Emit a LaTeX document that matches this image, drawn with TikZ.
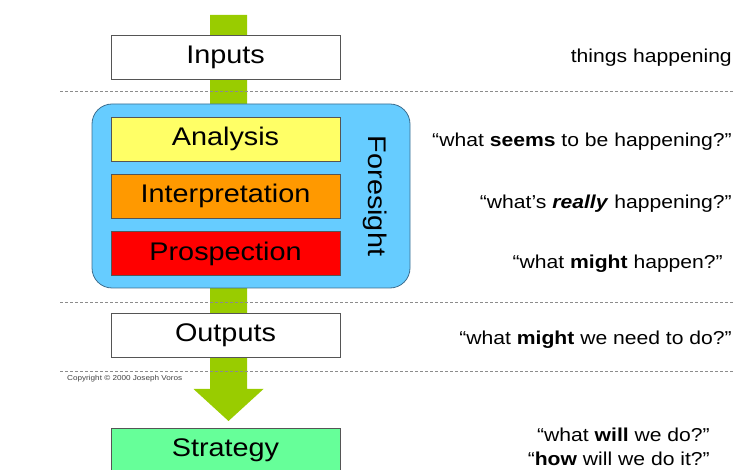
\documentclass[tikz,border=0pt]{standalone}
\usepackage{fontspec}
\setmainfont[FakeStretch=1.13]{Liberation Sans}
\usetikzlibrary{calc}
\definecolor{stemgreen}{HTML}{99CC00}
\definecolor{foreblue}{HTML}{66CCFF}
\definecolor{foreedge}{HTML}{3D6E8F}
\definecolor{anayellow}{HTML}{FFFF66}
\definecolor{intorange}{HTML}{FF9900}
\definecolor{prored}{HTML}{FF0000}
\definecolor{stratgreen}{HTML}{66FF99}
\definecolor{boxedge}{HTML}{555555}
\definecolor{rulegrey}{HTML}{8C8C8C}
\begin{document}
\begin{tikzpicture}[x=1pt, y=-1pt,
   stage/.style={draw=boxedge, line width=0.8pt, minimum width=229pt, minimum height=44pt,
     inner sep=0pt, font=\fontsize{25.5}{28}\selectfont},
   question/.style={anchor=base east, inner sep=0pt, font=\fontsize{18.7}{22}\selectfont},
   divider/.style={rulegrey, line width=0.8pt, dash pattern=on 3pt off 2pt}]
   \useasboundingbox (0,0) rectangle (734,470);
   % flow arrow behind everything
   \coordinate (src) at (228.5,15);
   \coordinate (tip) at (228.5,421);
   \fill[stemgreen] ($(src)+(-18.5,0)$) -- ($(src)+(18.5,0)$) -- ($(tip)+(18.5,-32)$)
     -- ($(tip)+(35,-32)$) -- (tip) -- ($(tip)+(-35,-32)$) -- ($(tip)+(-18.5,-32)$) -- cycle;
   % foresight panel
   \node[draw=foreedge, fill=foreblue, line width=0.8pt, rounded corners=20pt,
     minimum width=318pt, minimum height=184pt] (fore) at (251,196) {};
   \node[rotate=-90, font=\fontsize{25.5}{28}\selectfont] (foretext) at (375,196) {Foresight};
   % stages
   \node[stage, fill=white] (inputs) at (225.5,57) {Inputs};
   \node[stage, fill=anayellow] (ana) at (225.5,139) {Analysis};
   \node[stage, fill=intorange] (inter) at (225.5,196) {Interpretation};
   \node[stage, fill=prored] (pros) at (225.5,253.5) {Prospection};
   \node[stage, fill=white] (outputs) at (225.5,335.5) {Outputs};
   \node[stage, fill=stratgreen] (strat) at (225.5,450) {Strategy};
   % dividers
   \draw[divider] (60,91) -- (734,91);
   \draw[divider] (60,302) -- (734,302);
   \draw[divider] (60,371) -- (734,371);
   \node[anchor=west, inner sep=0pt, text=black!75, font=\fontsize{7.2}{8}\selectfont] (copy) at (67,379)
     {Copyright © 2000 Joseph Voros};
   % questions
   \node[question] (q-inputs) at (732,63) {things happening};
   \node[question] (q-ana) at (732,147) {“what \textbf{seems} to be happening?”};
   \node[question] (q-inter) at (732,209) {“what’s \textbf{\textit{really}} happening?”};
   \node[question] (q-pros) at (723,269) {“what \textbf{might} happen?”};
   \node[question] (q-outputs) at (732,345) {“what \textbf{might} we need to do?”};
   \node[question] (q-will) at (710,441) {“what \textbf{will} we do?”};
   \node[question] (q-how) at (710,465) {“\textbf{how} will we do it?”};
\end{tikzpicture}
\end{document}
